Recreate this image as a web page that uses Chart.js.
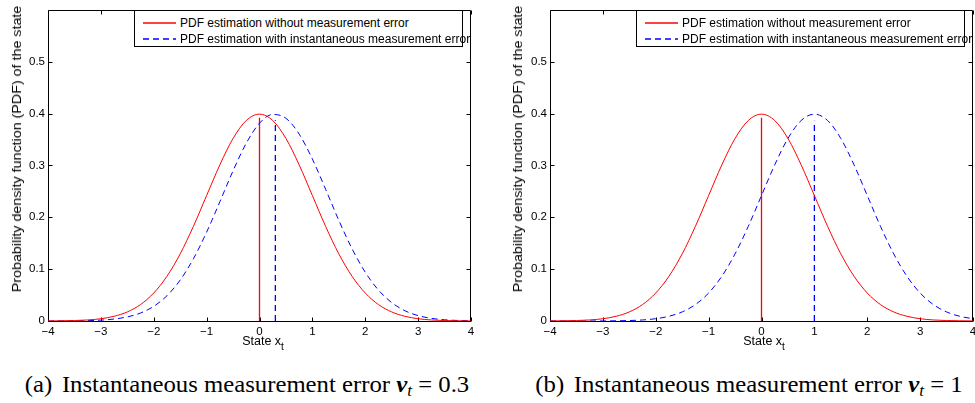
<!DOCTYPE html>
<html><head><meta charset="utf-8">
<script src="https://cdn.jsdelivr.net/npm/chart.js@4.4.0/dist/chart.umd.min.js"></script>
<style>
html,body{margin:0;padding:0;background:#fff;}
body{width:975px;height:403px;position:relative;overflow:hidden;font-family:"Liberation Sans",Arial,sans-serif;color:#000;}
.cw{position:absolute;top:0;width:480px;height:345px;}
.ytitle{position:absolute;font-size:12px;line-height:14px;white-space:nowrap;transform:translate(-50%,-50%) rotate(-90deg) scaleX(1.19);}
.xtitle{position:absolute;font-size:12.5px;line-height:14px;white-space:nowrap;transform:translate(-50%,-50%);}
.xtitle sub{font-size:10px;vertical-align:-5px;line-height:0;}
.legend{position:absolute;top:10px;width:327px;height:35px;border:1px solid #000;background:#fff;font-size:12px;}
.row{position:absolute;left:0;height:14px;line-height:14px;white-space:nowrap;}
.row svg{position:absolute;left:8px;top:0;}
.row span{position:absolute;left:45px;top:0;}
.caption{position:absolute;top:372px;font-family:"Liberation Serif","Times New Roman",serif;font-size:23px;line-height:26px;white-space:nowrap;transform:translateX(-50%) scaleX(1.075);}
.caption .lab{margin-right:9px;}
.caption sub{font-size:16px;vertical-align:-4px;line-height:0;}
</style>
</head><body>

<div class="cw" style="left:0"><canvas id="cA" width="480" height="345"></canvas></div>
<div class="cw" style="left:502px"><canvas id="cB" width="480" height="345"></canvas></div>

<div class="ytitle" style="left:17px;top:148.5px">Probability density function (PDF) of the state</div>
<div class="ytitle" style="left:518px;top:148.5px">Probability density function (PDF) of the state</div>

<div class="xtitle" style="left:263px;top:341px">State x<sub>t</sub></div>
<div class="xtitle" style="left:764px;top:341px">State x<sub>t</sub></div>

<div class="legend" style="left:134px">
  <div class="row" style="top:5px"><svg width="34" height="14"><line x1="0" y1="7" x2="33" y2="7" stroke="#ff0000" stroke-width="1.3"/></svg><span>PDF estimation without measurement error</span></div>
  <div class="row" style="top:21px"><svg width="34" height="14"><line x1="0" y1="7" x2="33" y2="7" stroke="#0000ff" stroke-width="1.3" stroke-dasharray="6,4"/></svg><span>PDF estimation with instantaneous measurement error</span></div>
</div>
<div class="legend" style="left:636px">
  <div class="row" style="top:5px"><svg width="34" height="14"><line x1="0" y1="7" x2="33" y2="7" stroke="#ff0000" stroke-width="1.3"/></svg><span>PDF estimation without measurement error</span></div>
  <div class="row" style="top:21px"><svg width="34" height="14"><line x1="0" y1="7" x2="33" y2="7" stroke="#0000ff" stroke-width="1.3" stroke-dasharray="6,4"/></svg><span>PDF estimation with instantaneous measurement error</span></div>
</div>

<div class="caption" style="left:247px"><span class="lab">(a)</span>Instantaneous measurement error <b><i>v</i></b><sub><i>t</i></sub> = 0.3</div>
<div class="caption" style="left:749px"><span class="lab">(b)</span>Instantaneous measurement error <b><i>v</i></b><sub><i>t</i></sub> = 1</div>

<script>
// ---- data ----
const xs = [-4,-3.75,-3.5,-3.25,-3,-2.75,-2.5,-2.25,-2,-1.75,-1.5,-1.25,-1,-0.75,-0.5,-0.25,0,0.25,0.5,0.75,1,1.25,1.5,1.75,2,2.25,2.5,2.75,3,3.25,3.5,3.75,4];
const pdfNoError = [0.0001,0.0004,0.0009,0.0020,0.0044,0.0091,0.0175,0.0317,0.0540,0.0863,0.1295,0.1826,0.2420,0.3011,0.3521,0.3867,0.3989,0.3867,0.3521,0.3011,0.2420,0.1826,0.1295,0.0863,0.0540,0.0317,0.0175,0.0091,0.0044,0.0020,0.0009,0.0004,0.0001];
const pdfErrorA = [0.0000,0.0001,0.0003,0.0007,0.0017,0.0038,0.0079,0.0154,0.0283,0.0488,0.0790,0.1200,0.1714,0.2299,0.2897,0.3430,0.3814,0.3984,0.3910,0.3605,0.3123,0.2541,0.1942,0.1394,0.0940,0.0596,0.0355,0.0198,0.0104,0.0051,0.0024,0.0010,0.0004];
const pdfErrorB = [0.0000,0.0000,0.0000,0.0000,0.0001,0.0004,0.0009,0.0020,0.0044,0.0091,0.0175,0.0317,0.0540,0.0863,0.1295,0.1826,0.2420,0.3011,0.3521,0.3867,0.3989,0.3867,0.3521,0.3011,0.2420,0.1826,0.1295,0.0863,0.0540,0.0317,0.0175,0.0091,0.0044];
const markerXA = [0, 0.3];
const markerTopA = [0.392, 0.387];
const markerXB = [0, 1];
const markerTopB = [0.392, 0.386];
const xTicks = [-4,-3,-2,-1,0,1,2,3,4];
const yTicks = [0,0.1,0.2,0.3,0.4,0.5];

const FONT = '"Liberation Sans", Arial, sans-serif';
const RED = '#ff0000', BLUE = '#0000ff';

const framePlugin = {
  id: 'frame',
  beforeDatasetsDraw(chart) {
    const {ctx, chartArea: a, scales: {x, y}} = chart;
    const L = Math.round(a.left) + 0.5, R = Math.round(a.right) - 0.5;
    const T = Math.round(a.top) + 0.5, B = Math.round(a.bottom) + 0.5;
    ctx.save();
    ctx.strokeStyle = '#000';
    ctx.lineWidth = 1;
    ctx.beginPath();
    for (const v of xTicks) {
      const px = Math.round(x.getPixelForValue(v)) + 0.5;
      ctx.moveTo(px, B); ctx.lineTo(px, B - 4);
      ctx.moveTo(px, T); ctx.lineTo(px, T + 4);
    }
    for (const v of yTicks) {
      const py = Math.round(y.getPixelForValue(v)) + 0.5;
      ctx.moveTo(L, py); ctx.lineTo(L + 4, py);
      ctx.moveTo(R, py); ctx.lineTo(R - 4, py);
    }
    ctx.stroke();
    ctx.beginPath();
    ctx.rect(L, T, R - L, B - T);
    ctx.stroke();
    ctx.restore();
  }
};

function pts(xv, yv) { return xv.map((v, i) => ({x: v, y: yv[i]})); }

function makeChart(id, errSeries, mX, mTop) {
  const ds = [
    {data: pts(xs, pdfNoError), borderColor: RED, borderWidth: 1, cubicInterpolationMode: 'monotone'},
    {data: pts(xs, errSeries), borderColor: BLUE, borderWidth: 1, borderDash: [6, 4], cubicInterpolationMode: 'monotone'},
    {data: [{x: mX[0], y: 0}, {x: mX[0], y: mTop[0]}], borderColor: RED, borderWidth: 1.3},
    {data: [{x: mX[1], y: 0}, {x: mX[1], y: mTop[1]}], borderColor: BLUE, borderWidth: 1.3, borderDash: [6, 4]}
  ];
  ds.forEach(d => { d.pointRadius = 0; d.fill = false; });
  return new Chart(document.getElementById(id), {
    type: 'line',
    data: {datasets: ds},
    plugins: [framePlugin],
    options: {
      responsive: false,
      animation: false,
      devicePixelRatio: 1,
      layout: {padding: {left: 0, top: 5, right: 9, bottom: 0}},
      plugins: {legend: {display: false}, tooltip: {enabled: false}},
      scales: {
        x: {
          type: 'linear', min: -4, max: 4,
          afterBuildTicks: s => { s.ticks = xTicks.map(v => ({value: v})); },
          afterFit: s => { s.height = 24; },
          grid: {display: false, drawTicks: false},
          border: {display: false},
          ticks: {
            autoSkip: false, maxRotation: 0, padding: 4, color: '#000',
            font: {family: FONT, size: 11.5},
            callback: v => v < 0 ? '\u2212' + Math.abs(v) : String(v)
          }
        },
        y: {
          type: 'linear', min: 0, max: 0.6,
          afterBuildTicks: s => { s.ticks = yTicks.map(v => ({value: v})); },
          afterFit: s => { s.width = 48; },
          grid: {display: false, drawTicks: false},
          border: {display: false},
          ticks: {
            padding: 3, color: '#000',
            font: {family: FONT, size: 11.5},
            callback: v => v === 0 ? '0' : Number(v).toFixed(1)
          }
        }
      }
    }
  });
}

makeChart('cA', pdfErrorA, markerXA, markerTopA);
makeChart('cB', pdfErrorB, markerXB, markerTopB);
</script>
</body></html>
